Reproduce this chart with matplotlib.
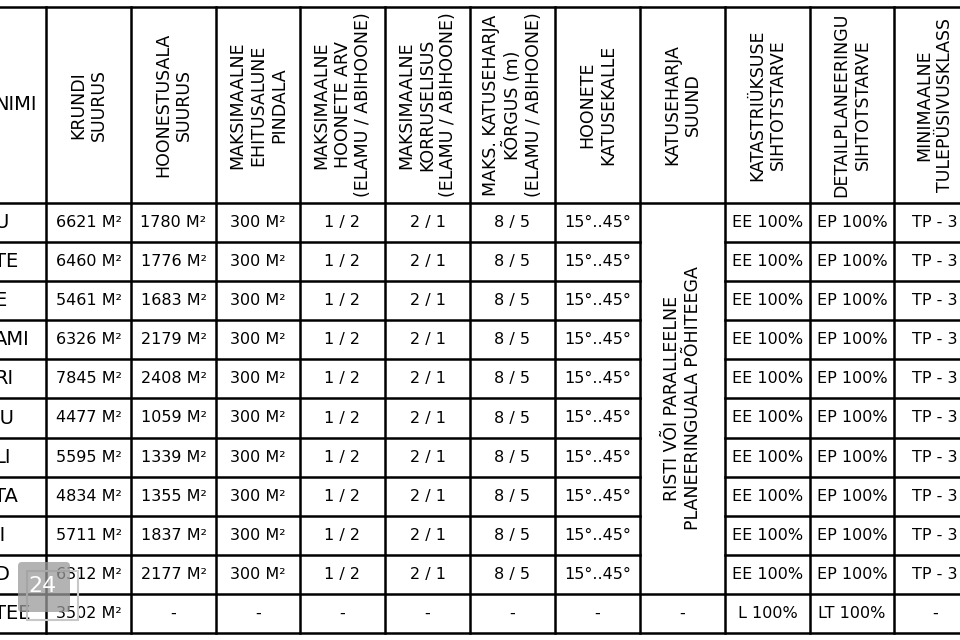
import matplotlib.pyplot as plt
from matplotlib.patches import FancyBboxPatch, Rectangle

# ==========================================
# Table data
# ==========================================
name_header = "NIMI"
headers = [
    "KRUNDI\nSUURUS",
    "HOONESTUSALA\nSUURUS",
    "MAKSIMAALNE\nEHITUSALUNE\nPINDALA",
    "MAKSIMAALNE\nHOONETE ARV\n(ELAMU / ABIHOONE)",
    "MAKSIMAALNE\nKORRUSELISUS\n(ELAMU / ABIHOONE)",
    "MAKS. KATUSEHARJA\nKÕRGUS (m)\n(ELAMU / ABIHOONE)",
    "HOONETE\nKATUSEKALLE",
    "KATUSEHARJA\nSUUND",
    "KATASTRIÜKSUSE\nSIHTOTSTARVE",
    "DETAILPLANEERINGU\nSIHTOTSTARVE",
    "MINIMAALNE\nTULEPÜSIVUSKLASS",
]

names = ["U", "TE", "E", "AMI", "RI", "IU", "LI", "TA", "II", "D", "TEE"]
krundi_suurus = [6621, 6460, 5461, 6326, 7845, 4477, 5595, 4834, 5711, 6312, 3502]
hoonestusala = [1780, 1776, 1683, 2179, 2408, 1059, 1339, 1355, 1837, 2177, None]
ehitusalune = [300, 300, 300, 300, 300, 300, 300, 300, 300, 300, None]
hoonete_arv = ["1 / 2"] * 10 + ["-"]
korruselisus = ["2 / 1"] * 10 + ["-"]
harja_korgus = ["8 / 5"] * 10 + ["-"]
katusekalle = ["15°..45°"] * 10 + ["-"]
harja_suund = "RISTI VÕI PARALLEELNE\nPLANEERINGUALA PÕHITEEGA"
harja_suund_last = "-"
katastri = ["EE 100%"] * 10 + ["L 100%"]
detailplan = ["EP 100%"] * 10 + ["LT 100%"]
tulepusivus = ["TP - 3"] * 10 + ["-"]


def m2(v):
    return "-" if v is None else f"{v} M²"


columns = [
    [m2(v) for v in krundi_suurus],
    [m2(v) for v in hoonestusala],
    [m2(v) for v in ehitusalune],
    hoonete_arv,
    korruselisus,
    harja_korgus,
    katusekalle,
    None,  # merged cell column
    katastri,
    detailplan,
    tulepusivus,
]

# ==========================================
# Layout (pixel grid, the table is cut at both sides)
# ==========================================
col_edges = [-60, 46, 131, 216, 300, 385, 470, 555, 640, 725, 810, 894, 976]
top, head_bottom, bottom = 7, 203, 633
n_rows = len(names)
row_h = (bottom - head_bottom) / n_rows
row_edges = [head_bottom + i * row_h for i in range(n_rows + 1)]
merged_col = 8  # index in col_edges of the merged "SUUND" column

plt.rcParams['font.family'] = ['DejaVu Sans']

fig = plt.figure(figsize=(9.6, 6.4), dpi=100)
ax = fig.add_axes([0, 0, 1, 1])
ax.set_xlim(0, 960)
ax.set_ylim(640, 0)
ax.axis('off')

lw = 1.8
# horizontal lines
ax.plot([0, 960], [top, top], color='black', lw=lw)
ax.plot([0, 960], [head_bottom, head_bottom], color='black', lw=lw)
ax.plot([0, 960], [bottom, bottom], color='black', lw=lw)
mx0, mx1 = col_edges[merged_col], col_edges[merged_col + 1]
for i, y in enumerate(row_edges[1:-1], start=1):
    if i < n_rows - 1:
        ax.plot([0, mx0], [y, y], color='black', lw=lw)
        ax.plot([mx1, 960], [y, y], color='black', lw=lw)
    else:
        ax.plot([0, 960], [y, y], color='black', lw=lw)
# vertical lines
for x in col_edges[1:-1]:
    ax.plot([x, x], [top, bottom], color='black', lw=lw)

# header
head_mid = (top + head_bottom) / 2
ax.text(-6, head_mid, name_header, ha='left', va='center', fontsize=14)
for j, h in enumerate(headers):
    xc = (col_edges[j + 1] + col_edges[j + 2]) / 2
    ax.text(xc, head_mid, h, rotation=90, ha='center', va='center',
            multialignment='center', fontsize=12.5, linespacing=1.2)

# body
for i in range(n_rows):
    yc = (row_edges[i] + row_edges[i + 1]) / 2
    ax.text(-6, yc, names[i], ha='left', va='center', fontsize=14)
    for j, col in enumerate(columns):
        if col is None:
            continue
        xc = (col_edges[j + 1] + col_edges[j + 2]) / 2
        ax.text(xc, yc, col[i], ha='center', va='center', fontsize=11.5)

# merged cell
ax.text((mx0 + mx1) / 2, (row_edges[0] + row_edges[-2]) / 2, harja_suund,
        rotation=90, ha='center', va='center', multialignment='center',
        fontsize=12.5, linespacing=1.2)
ax.text((mx0 + mx1) / 2, (row_edges[-2] + row_edges[-1]) / 2, harja_suund_last,
        ha='center', va='center', fontsize=11.5)

# "24" logo overlay in the corner
ax.add_patch(Rectangle((27, 571), 51, 49, facecolor='none',
                       edgecolor='#c8c8c8', lw=1.5, zorder=5))
ax.add_patch(FancyBboxPatch((18, 562), 52, 50, boxstyle="round,pad=0,rounding_size=4",
                            facecolor='#9a9a9a', edgecolor='none', alpha=0.75, zorder=6))
ax.text(42, 586, "24", color='white', ha='center', va='center', fontsize=16, zorder=7)

plt.savefig("out.png", dpi=100)
